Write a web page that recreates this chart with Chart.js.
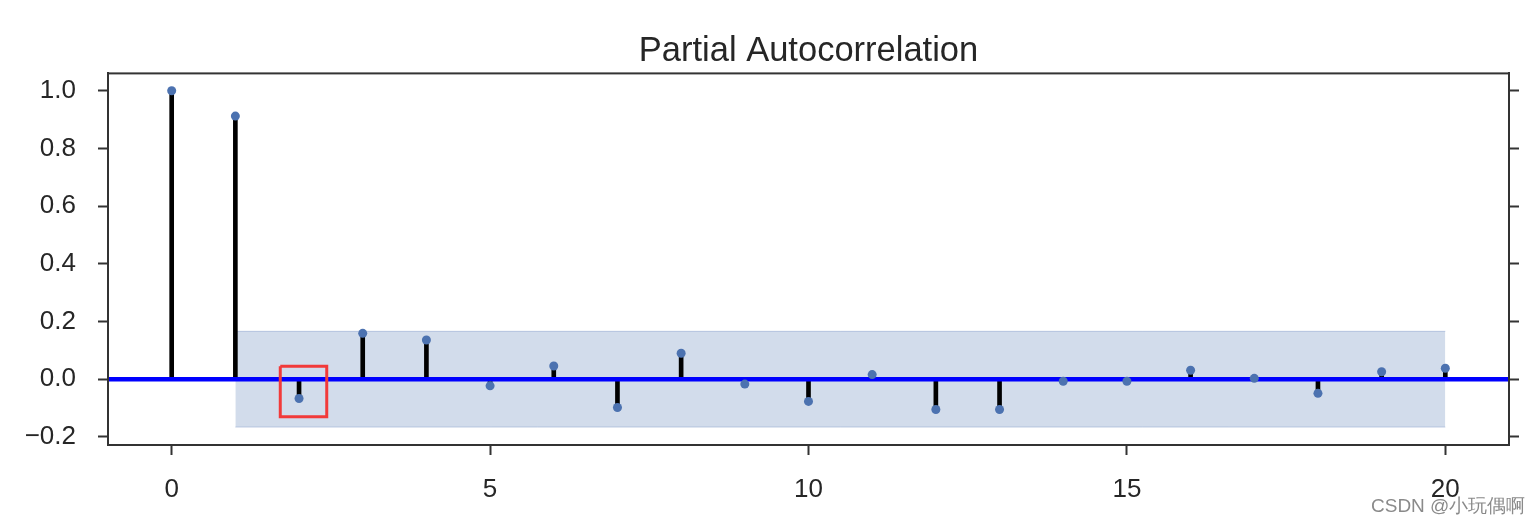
<!DOCTYPE html>
<html>
<head>
<meta charset="utf-8">
<script src="https://cdn.jsdelivr.net/npm/chart.js@4/dist/chart.umd.min.js"></script>
<style>
  body { margin: 0; background: #fff; }
  #wrap { position: relative; width: 1538px; height: 524px; }
  #mark { position: absolute; left: 1371px; top: 493px; font: 19px "Liberation Sans", Arial, sans-serif; color: #8a8a8a; white-space: nowrap; }
</style>
</head>
<body>
<div id="wrap">
  <canvas id="myChart" width="1538" height="524"></canvas>
  <div id="mark">CSDN @小玩偶啊</div>
</div>
<script>
// lags and partial autocorrelation values
var lags = [0, 1, 2, 3, 4, 5, 6, 7, 8, 9, 10, 11, 12, 13, 14, 15, 16, 17, 18, 19, 20];
var pacf = [1.0, 0.912, -0.067, 0.159, 0.136, -0.023, 0.046, -0.098, 0.090, -0.017,
            -0.077, 0.016, -0.105, -0.105, -0.007, -0.007, 0.031, 0.003, -0.049, 0.026, 0.038];
var confLags = [1, 20];
var confUpper = [0.166, 0.166];
var confLower = [-0.166, -0.166];
var zeroX = [-1, 21];
// red highlight box drawn on the picture (data units)
var boxX = [1.705, 2.435, 2.435, 1.705, 1.705];
var boxY = [0.045, 0.045, -0.130, -0.130, 0.045];
var xTicks = [0, 5, 10, 15, 20];
var yTicks = [-0.2, 0.0, 0.2, 0.4, 0.6, 0.8, 1.0];

var fontFam = '"Liberation Sans", Arial, sans-serif';
var axisColor = '#333333';

const pts = (xs, ys) => xs.map((x, i) => ({ x: x, y: ys[i] }));

const frame = {
  id: 'frame',
  afterDraw(chart) {
    var a = chart.chartArea, c = chart.ctx;
    c.save();
    c.strokeStyle = axisColor;
    c.lineWidth = 2;
    c.strokeRect(a.left, a.top, a.right - a.left, a.bottom - a.top);
    c.restore();
  }
};

var ctx = document.getElementById('myChart').getContext('2d');
var myChart = new Chart(ctx, {
  type: 'scatter',
  data: {
    datasets: [
      {
        type: 'line',
        data: pts(boxX, boxY),
        showLine: true,
        borderColor: '#f23a3a',
        borderWidth: 3,
        borderJoinStyle: 'miter',
        pointRadius: 0,
        fill: false,
        order: 0
      },
      {
        data: pts(lags, pacf),
        backgroundColor: '#4c72b0',
        borderColor: '#4c72b0',
        pointRadius: 4.5,
        pointBorderWidth: 0,
        order: 1
      },
      {
        type: 'line',
        data: pts(zeroX, [0, 0]),
        borderColor: '#0000ff',
        borderWidth: 4.5,
        pointRadius: 0,
        fill: false,
        order: 2
      },
      {
        type: 'bar',
        data: lags.map((l, i) => ({ x: l, y: [0, pacf[i]] })),
        backgroundColor: '#000000',
        barThickness: 4,
        order: 3
      },
      {
        type: 'line',
        data: pts(confLags, confUpper),
        borderColor: 'rgba(76,114,176,0.3)',
        borderWidth: 1,
        pointRadius: 0,
        backgroundColor: 'rgba(76,114,176,0.25)',
        fill: '+1',
        order: 4
      },
      {
        type: 'line',
        data: pts(confLags, confLower),
        borderColor: 'rgba(76,114,176,0.3)',
        borderWidth: 1,
        pointRadius: 0,
        fill: false,
        order: 5
      }
    ]
  },
  options: {
    responsive: false,
    devicePixelRatio: 1,
    animation: false,
    layout: { padding: { left: 0, right: 0, top: 0, bottom: 0 } },
    plugins: {
      legend: { display: false },
      tooltip: { enabled: false },
      title: {
        display: true,
        fullSize: false,
        text: 'Partial Autocorrelation',
        color: '#262626',
        font: { family: fontFam, size: 34.5, weight: 'normal' },
        padding: { top: 31, bottom: 1 }
      }
    },
    scales: {
      x: {
        type: 'linear',
        min: -1,
        max: 21,
        offset: false,
        afterBuildTicks: s => { s.ticks = xTicks.map(v => ({ value: v })); },
        afterFit: s => { s.height = 79; },
        grid: { offset: false, drawOnChartArea: false, tickLength: 10, tickWidth: 2, tickColor: axisColor },
        border: { display: true, color: axisColor, width: 2 },
        ticks: { color: '#262626', padding: 19, maxRotation: 0, font: { family: fontFam, size: 26 } }
      },
      y: {
        type: 'linear',
        min: -0.228,
        max: 1.06,
        afterBuildTicks: s => { s.ticks = yTicks.map(v => ({ value: v })); },
        afterFit: s => { s.width = 108; },
        grid: { drawOnChartArea: false, tickLength: 10, tickWidth: 2, tickColor: axisColor },
        border: { display: true, color: axisColor, width: 2 },
        ticks: {
          color: '#262626', padding: 22, font: { family: fontFam, size: 26 },
          callback: v => (v < 0 ? '\u2212' : '') + Math.abs(v).toFixed(1)
        }
      },
      y2: {
        type: 'linear',
        position: 'right',
        min: -0.228,
        max: 1.06,
        afterBuildTicks: s => { s.ticks = yTicks.map(v => ({ value: v })); },
        afterFit: s => { s.width = 29; },
        grid: { drawOnChartArea: false, tickLength: 10, tickWidth: 2, tickColor: axisColor },
        border: { display: true, color: axisColor, width: 2 },
        ticks: { display: false }
      }
    }
  },
  plugins: [frame]
});
</script>
</body>
</html>
